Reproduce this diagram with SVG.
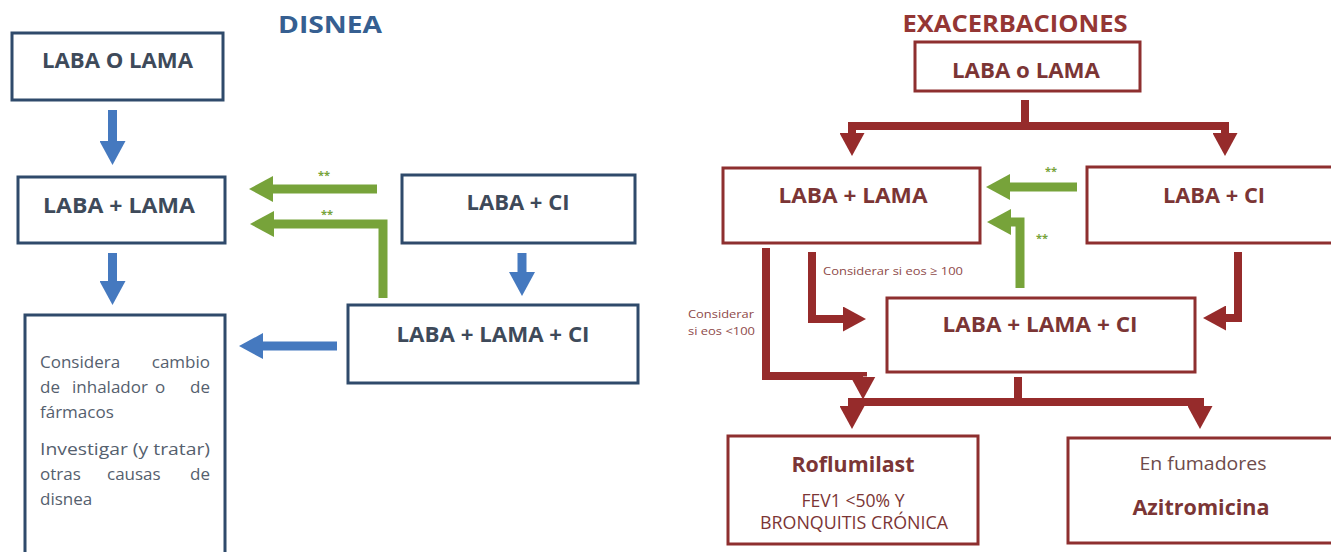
<svg xmlns="http://www.w3.org/2000/svg" width="1331" height="552" viewBox="0 0 1331 552">
<defs>
<style>
.bl{fill:#fff;stroke:#2F4A6B;stroke-width:3}
.rd{fill:#fff;stroke:#8E2F2F;stroke-width:3}
.t{font-family:"Open Sans","Liberation Sans",sans-serif;text-anchor:middle}
.lb{fill:#3E4A5A;font-weight:bold;font-size:21px}
.rb{fill:#7B3535;font-weight:bold;font-size:21px}
.body{font-family:"Open Sans","Liberation Sans",sans-serif;font-size:17px;fill:#55606E}
.star{font-family:"Open Sans","Liberation Sans",sans-serif;font-size:11px;fill:#77A33A;text-anchor:middle;font-weight:bold}
.small{font-family:"Open Sans","Liberation Sans",sans-serif;font-size:11.5px;fill:#8E4A4A}
.ab{fill:none;stroke:#4579BF;stroke-width:9}
.ag{fill:none;stroke:#77A33A;stroke-width:9}
.ar{fill:none;stroke:#962B2B;stroke-width:8}
</style>
<marker id="hb" markerUnits="userSpaceOnUse" viewBox="0 0 24 26" markerWidth="24" markerHeight="26" refX="0" refY="13" orient="auto"><path d="M0,0 L24,13 L0,26 z" fill="#4579BF"/></marker>
<marker id="hg" markerUnits="userSpaceOnUse" viewBox="0 0 24 26" markerWidth="24" markerHeight="26" refX="0" refY="13" orient="auto"><path d="M0,0 L24,13 L0,26 z" fill="#77A33A"/></marker>
<marker id="hr" markerUnits="userSpaceOnUse" viewBox="0 0 23 25" markerWidth="23" markerHeight="25" refX="0" refY="12.5" orient="auto"><path d="M0,0 L23,12.5 L0,25 z" fill="#962B2B"/></marker>
</defs>
<rect width="1331" height="552" fill="#fff"/>

<text class="t" x="330" y="33" font-size="24" font-weight="bold" fill="#365F91" textLength="104" lengthAdjust="spacingAndGlyphs">DISNEA</text>
<text class="t" x="1015" y="32" font-size="24" font-weight="bold" fill="#943634" textLength="225" lengthAdjust="spacingAndGlyphs">EXACERBACIONES</text>

<g id="connectors">
<path class="ab" d="M112.5,110 V141" marker-end="url(#hb)"/>
<path class="ab" d="M112.5,253 V281" marker-end="url(#hb)"/>
<path class="ab" d="M522,253 V272" marker-end="url(#hb)"/>
<path class="ab" d="M337,346 H263" marker-end="url(#hb)"/>
<path class="ag" d="M377,189 H273" marker-end="url(#hg)"/>
<path class="ag" d="M383,298 V224 H274" marker-end="url(#hg)"/>

<path class="ar" d="M1025,100 V126 H852 V133" marker-end="url(#hr)"/>
<path class="ar" d="M1025,126 H1225 V133" marker-end="url(#hr)"/>
<path class="ar" d="M766,248 V376 H863 V376.5" marker-end="url(#hr)"/>
<path class="ar" d="M812,252 V319 H843" marker-end="url(#hr)"/>
<path class="ar" d="M1238,252 V318 H1226" marker-end="url(#hr)"/>
<path class="ar" d="M1018,377 V402 H852 V406" marker-end="url(#hr)"/>
<path class="ar" d="M1018,402 H1200 V406" marker-end="url(#hr)"/>
<path class="ag" d="M1077,187 H1010" marker-end="url(#hg)"/>
<path class="ag" d="M1020,288 V222 H1011" marker-end="url(#hg)"/>

<text class="star" x="324" y="179">**</text>
<text class="star" x="327" y="218">**</text>
<text class="star" x="1051" y="175">**</text>
<text class="star" x="1042" y="242">**</text>
<text class="small" x="823" y="275" textLength="140" lengthAdjust="spacingAndGlyphs">Considerar si eos ≥ 100</text>
<text class="small" x="688" y="318" textLength="66" lengthAdjust="spacingAndGlyphs">Considerar</text>
<text class="small" x="688" y="335" textLength="67" lengthAdjust="spacingAndGlyphs">si eos &lt;100</text>
</g>

<g id="n-laba-o-lama">
<rect class="bl" x="12" y="33" width="211" height="67"/>
<text class="t lb" x="117.5" y="68" textLength="151" lengthAdjust="spacingAndGlyphs">LABA O LAMA</text>
</g>
<g id="n-laba-lama">
<rect class="bl" x="18" y="177" width="207" height="66"/>
<text class="t lb" x="119" y="213" textLength="152" lengthAdjust="spacingAndGlyphs">LABA + LAMA</text>
</g>
<g id="n-considera">
<rect class="bl" x="25" y="315" width="200" height="260"/>
<text class="body" x="40" y="368">Considera</text><text class="body" x="210" y="368" text-anchor="end">cambio</text>
<text class="body" x="40" y="393">de</text><text class="body" x="72" y="393">inhalador</text><text class="body" x="155" y="393">o</text><text class="body" x="210" y="393" text-anchor="end">de</text>
<text class="body" x="40" y="418">fármacos</text>
<text class="body" x="40" y="455" textLength="170" lengthAdjust="spacingAndGlyphs">Investigar (y tratar)</text>
<text class="body" x="40" y="480">otras</text><text class="body" x="107" y="480">causas</text><text class="body" x="210" y="480" text-anchor="end">de</text>
<text class="body" x="40" y="505">disnea</text>
</g>
<g id="n-laba-ci">
<rect class="bl" x="402" y="175" width="233" height="68"/>
<text class="t lb" x="518" y="210" textLength="103" lengthAdjust="spacingAndGlyphs">LABA + CI</text>
</g>
<g id="n-laba-lama-ci">
<rect class="bl" x="348" y="305" width="290" height="78"/>
<text class="t lb" x="493" y="342" textLength="193" lengthAdjust="spacingAndGlyphs">LABA + LAMA + CI</text>
</g>

<g id="r-laba-o-lama">
<rect class="rd" x="915" y="42" width="225" height="49"/>
<text class="t rb" x="1026" y="78" textLength="148" lengthAdjust="spacingAndGlyphs">LABA o LAMA</text>
</g>
<g id="r-laba-lama">
<rect class="rd" x="723" y="168" width="257" height="75"/>
<text class="t rb" x="853" y="203" textLength="149" lengthAdjust="spacingAndGlyphs">LABA + LAMA</text>
</g>
<g id="r-laba-ci">
<rect class="rd" x="1087" y="167" width="260" height="76"/>
<text class="t rb" x="1214" y="203" textLength="102" lengthAdjust="spacingAndGlyphs">LABA + CI</text>
</g>
<g id="r-laba-lama-ci">
<rect class="rd" x="887" y="298" width="308" height="74"/>
<text class="t rb" x="1040" y="332" textLength="195" lengthAdjust="spacingAndGlyphs">LABA + LAMA + CI</text>
</g>
<g id="r-roflumilast">
<rect class="rd" x="728" y="436" width="250" height="108"/>
<text class="t rb" x="853" y="472" font-size="20" textLength="123" lengthAdjust="spacingAndGlyphs">Roflumilast</text>
<text class="t" x="853" y="507" font-size="18" fill="#7B3535" textLength="103" lengthAdjust="spacingAndGlyphs">FEV1 &lt;50% Y</text>
<text class="t" x="854" y="529" font-size="18" fill="#7B3535" textLength="188" lengthAdjust="spacingAndGlyphs">BRONQUITIS CRÓNICA</text>
</g>
<g id="r-azitromicina">
<rect class="rd" x="1068" y="438" width="280" height="105"/>
<text class="t" x="1203" y="470" font-size="18" fill="#6E4B4B" textLength="127" lengthAdjust="spacingAndGlyphs">En fumadores</text>
<text class="t rb" x="1201" y="515" font-size="22" textLength="137" lengthAdjust="spacingAndGlyphs">Azitromicina</text>
</g>
</svg>
